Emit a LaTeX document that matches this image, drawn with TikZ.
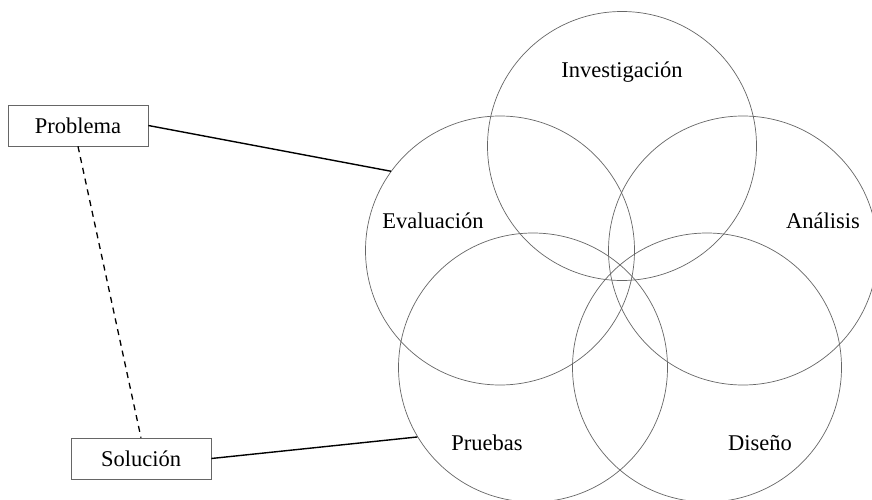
\documentclass[tikz,border=0pt]{standalone}
\usepackage{fontspec}
\setmainfont{Liberation Serif}
\begin{document}
\begin{tikzpicture}[x=1pt,y=-1pt,
  ring/.style={circle,draw=black!60,line width=0.7pt,minimum size=269pt,inner sep=0pt},
  lbl/.style={font=\fontsize{22.5}{26}\selectfont,inner sep=0pt},
  boxnode/.style={draw=black!60,line width=0.7pt,minimum width=140pt,minimum height=41pt,inner sep=0pt,font=\fontsize{22.5}{26}\selectfont},
  conn/.style={line width=1.4pt,black},
  dconn/.style={line width=1.3pt,black,dash pattern=on 6pt off 5pt}]
\clip (0,0) rectangle (872,500);
\fill[white] (0,0) rectangle (872,500);
\node[ring] (inv) at (622,146) {};
\node[ring] (eva) at (500,250.5) {};
\node[ring] (ana) at (743,250.5) {};
\node[ring] (pru) at (533,367.5) {};
\node[ring] (dis) at (707,367.5) {};
\node[lbl] (tinv) at (622,72) {Investigación};
\node[lbl] (teva) at (433,221) {Evaluación};
\node[lbl] (tana) at (823,221) {Análisis};
\node[lbl] (tpru) at (487,443) {Pruebas};
\node[lbl] (tdis) at (760,443) {Diseño};
\node[boxnode] (prob) at (78,125.5) {Problema};
\node[boxnode] (sol) at (141,458.5) {Solución};
\draw[conn] (prob.east) -- (eva.144);
\draw[conn] (sol.east) -- (pru.211);
\draw[dconn] (prob.south) -- (sol.north);
\end{tikzpicture}
\end{document}
